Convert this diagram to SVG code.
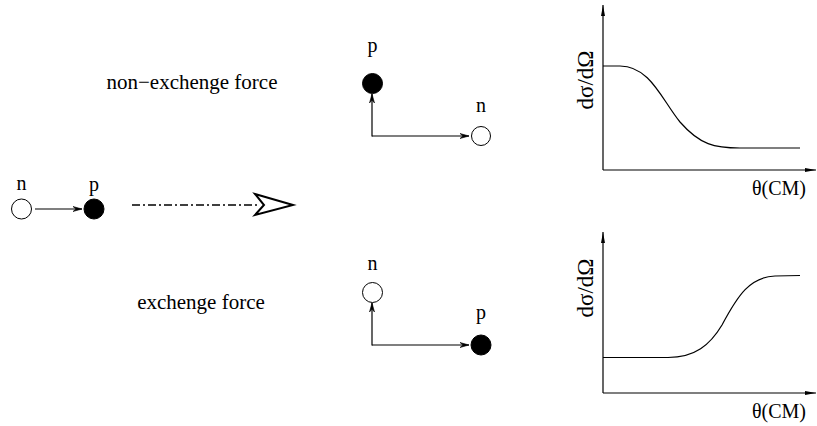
<svg xmlns="http://www.w3.org/2000/svg" width="817" height="426" viewBox="0 0 817 426" font-family="'Liberation Serif', 'Times New Roman', serif">
<style>
text{font-family:'Liberation Serif','Times New Roman',serif;fill:#000}
.t{font-size:21px}
.l{font-size:20px;text-anchor:middle}
.y{font-size:23px;text-anchor:middle}
.ln{stroke:#000;stroke-width:1.2;fill:none}
.open{fill:#fff;stroke:#000;stroke-width:1}
.full{fill:#000;stroke:#000;stroke-width:1}
</style>
<defs>
<marker id="ah" markerWidth="10" markerHeight="8" refX="9" refY="4" orient="auto" markerUnits="userSpaceOnUse">
<path d="M0,1.5 L9,4 L0,6.5 L3,4 Z" fill="#000" stroke="#000" stroke-width="0.6"/>
</marker>
<marker id="ax" markerWidth="12" markerHeight="6" refX="11" refY="3" orient="auto" markerUnits="userSpaceOnUse">
<path d="M0,1 L11,3 L0,5 Z" fill="#000"/>
</marker>
</defs>
<g id="connectors">
<line class="ln" x1="35" y1="209" x2="82" y2="209" marker-end="url(#ah)"/>
<line x1="132" y1="205" x2="258" y2="205" stroke="#000" stroke-width="1.6" stroke-dasharray="8 3 2 3"/>
<polygon points="255,194 293,205 255,215 264,205" fill="#fff" stroke="#000" stroke-width="2" stroke-linejoin="miter"/>
<line class="ln" x1="372" y1="136" x2="469" y2="136" marker-end="url(#ah)"/>
<line class="ln" x1="372" y1="136.6" x2="372" y2="94" marker-end="url(#ah)"/>
<line class="ln" x1="372" y1="345" x2="469" y2="345" marker-end="url(#ah)"/>
<line class="ln" x1="372" y1="345.6" x2="372" y2="303" marker-end="url(#ah)"/>
</g>
<g id="incoming">
<circle class="open" cx="21.5" cy="209" r="10"/>
<text class="l" x="21.5" y="190">n</text>
<circle class="full" cx="94" cy="209" r="10"/>
<text class="l" x="94" y="191">p</text>
</g>
<g id="non-exchange">
<text class="t" x="192" y="89" text-anchor="middle">non−exchenge force</text>
<circle class="full" cx="372.5" cy="83.5" r="10"/>
<text class="l" x="372.5" y="52">p</text>
<circle class="open" cx="481" cy="136" r="9.5"/>
<text class="l" x="481" y="112">n</text>
</g>
<g id="exchange">
<text class="t" x="201" y="309" text-anchor="middle">exchenge force</text>
<circle class="open" cx="372.5" cy="292.5" r="10"/>
<text class="l" x="372.5" y="270">n</text>
<circle class="full" cx="481" cy="345" r="10"/>
<text class="l" x="481" y="319">p</text>
</g>
<g id="plot-top">
<line class="ln" x1="603" y1="170" x2="603" y2="5" marker-end="url(#ax)"/>
<line class="ln" x1="603" y1="170" x2="816" y2="170" marker-end="url(#ax)"/>
<path class="ln" d="M603,66 L620,66 C650,66 662,100 680,122 C700,145 715,148 740,148 L800,148"/>
<text class="y" transform="translate(593,80) rotate(-90)">dσ/dΩ</text>
<text class="l" x="779" y="195">θ(CM)</text>
</g>
<g id="plot-bottom">
<line class="ln" x1="603" y1="393" x2="603" y2="232" marker-end="url(#ax)"/>
<line class="ln" x1="603" y1="393" x2="816" y2="393" marker-end="url(#ax)"/>
<path class="ln" d="M603,357.5 L668,357.5 C695,357.5 710,345 722,325 C738,295 750,277 775,276 L800,275.5"/>
<text class="y" transform="translate(593,288) rotate(-90)">dσ/dΩ</text>
<text class="l" x="779" y="418">θ(CM)</text>
</g>
</svg>
